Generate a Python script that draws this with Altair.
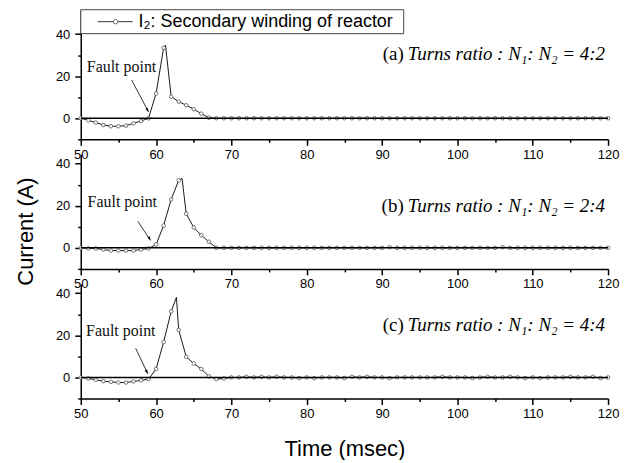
import altair as alt
import pandas as pd

# ---------------- data ----------------
time_ms = list(range(50, 121))

cur_a = [0, -0.95, -2.05, -3.2, -3.8, -3.8, -3.5, -2.4, -1.3, 0.0,
         11.8, 33.5, 10.3, 7.9, 6.2, 4.3, 2.2, 0.3] + [0] * 53
peak_a = (61.25, 34.7)

cur_b = [0, -0.3, -0.3, -0.8, -1.3, -1.3, -1.3, -1.3, -0.8, -0.3,
         1.6, 10.6, 23.0, 32.1, 16.2, 9.7, 6.0, 2.9, 0] + [0] * 52
cur_b[91 - 50] = 0.3
cur_b[106 - 50] = 0.3
peak_b = (63.45, 33.0)

cur_c = [0, -0.5, -1.1, -1.8, -2.1, -2.4, -2.4, -1.9, -1.4, -0.8,
         4.0, 16.8, 31.4, 22.6, 9.8, 6.6, 4.0, 0.5, -0.8, -0.5] + [0] * 51
c_wiggle = {72: 0.3, 74: 0.3, 76: 0.3, 79: -0.3, 81: -0.3, 85: -0.3, 86: 0.3,
            88: 0.3, 91: -0.3, 98: 0.3, 102: -0.3, 104: 0.3, 107: 0.3,
            109: -0.3, 111: -0.3, 115: 0.3, 118: 0.3, 119: -0.3}
for k, v in c_wiggle.items():
    cur_c[k - 50] = v
peak_c = (62.7, 38.1)

tags = ["(a)", "(b)", "(c)"]
ratios = ["Turns ratio : N\u2081: N\u2082 = 4:2",
          "Turns ratio : N\u2081: N\u2082 = 2:4",
          "Turns ratio : N\u2081: N\u2082 = 4:4"]
tag_y = [30.5, 20.0, 25.0]
fault_text_xy = [(50.8, 24.3), (50.9, 21.9), (50.7, 22.1)]
arrow_tail = [(56.75, 18.2), (57.58, 12.6), (57.28, 13.9)]
arrow_tip = [(59.0, 3.0), (59.26, 3.5), (58.9, 1.75)]
y_top = [51.6, 44.5, 44.5]
heights = [130, 115, 115]

legend_label = "I\u2082: Secondary winding of reactor"

SANS = "Liberation Sans"
SERIF = "Liberation Serif"


def build_panel(i, vals, peak):
    df = pd.DataFrame({"t": time_ms, "i": vals})
    line_df = pd.concat([df, pd.DataFrame({"t": [peak[0]], "i": [peak[1]]})]).sort_values("t")

    tick_cond = {"condition": {"test": "datum.value % 10 === 0", "value": 6}, "value": 3}
    ytick_cond = {"condition": {"test": "datum.value % 20 === 0", "value": 6}, "value": 3}

    xkw = dict(values=list(range(50, 121, 5)),
               labelExpr="datum.value % 10 === 0 ? datum.label : ''",
               tickSize=tick_cond, labelPadding=3, labelFontSize=13,
               labelFont=SANS, labelColor="black", labelFlush=False)
    if i == 2:
        xkw.update(title="Time (msec)", titleFont=SANS, titleFontSize=22,
                   titleFontWeight="normal", titleColor="black",
                   titleY=57, titleBaseline="alphabetic")
    else:
        xkw.update(title=None)
    ykw = dict(values=[-10, 0, 10, 20, 30, 40],
               labelExpr="datum.value % 20 === 0 ? datum.label : ''",
               tickSize=ytick_cond, labelPadding=5, labelFontSize=13,
               labelFont=SANS, labelColor="black", labelFlush=False)
    if i == 1:
        ykw.update(title="Current (A)", titleFont=SANS, titleFontSize=22,
                   titleFontWeight="normal", titleColor="black",
                   titleX=-43, titleY=77, titleBaseline="bottom", titleAngle=270)
    else:
        ykw.update(title=None)

    xs = alt.Scale(domain=[50, 120], nice=False, zero=False)
    ys = alt.Scale(domain=[-10, y_top[i]], nice=False, zero=False)
    X = alt.X("t:Q", scale=xs, axis=alt.Axis(**xkw))
    Y = alt.Y("i:Q", scale=ys, axis=alt.Axis(**ykw))

    zero = alt.Chart(pd.DataFrame({"t": [50], "t2": [120], "i": [0]})).mark_rule(
        color="black", strokeWidth=1.5).encode(x=X, x2="t2:Q", y=Y)
    line = alt.Chart(line_df).mark_line(color="#1a1a1a", strokeWidth=1).encode(x=X, y=Y)
    pts = alt.Chart(df).mark_point(shape="circle", fill="white", stroke="#555",
                                   strokeWidth=0.8, size=13, opacity=1,
                                   filled=False).encode(x=X, y=Y)

    ann = pd.DataFrame({"t": [119.6], "i": [tag_y[i]], "txt": [ratios[i]], "tag": [tags[i]]})
    ratio_txt = alt.Chart(ann).mark_text(font=SERIF, fontStyle="italic", fontSize=19,
                                         align="right", baseline="middle",
                                         color="black").encode(x=X, y=Y, text="txt:N")
    tag_txt = alt.Chart(ann).mark_text(font=SERIF, fontSize=19, align="right",
                                       baseline="middle", dx=-202,
                                       color="black").encode(x=X, y=Y, text="tag:N")

    fdf = pd.DataFrame({"t": [fault_text_xy[i][0]], "i": [fault_text_xy[i][1]],
                        "txt": ["Fault point"]})
    fault_txt = alt.Chart(fdf).mark_text(font=SERIF, fontSize=16, align="left",
                                         baseline="middle", color="#111").encode(
        x=X, y=Y, text="txt:N")

    adf = pd.DataFrame({"t": [arrow_tail[i][0]], "i": [arrow_tail[i][1]],
                        "t2": [arrow_tip[i][0]], "i2": [arrow_tip[i][1]]})
    arrow = alt.Chart(adf).mark_rule(color="black", strokeWidth=0.8).encode(
        x=X, y=Y, x2="t2:Q", y2="i2:Q")
    hdf = pd.DataFrame({"t": [arrow_tip[i][0]], "i": [arrow_tip[i][1]]})
    head = alt.Chart(hdf).mark_point(shape="M0,0L-0.45,1.3L0.45,1.3Z", filled=True,
                                     color="black", opacity=1, size=40,
                                     angle=152).encode(x=X, y=Y)

    layers = [line, pts, zero, ratio_txt, tag_txt, fault_txt, arrow, head]

    if i == 0:
        one = pd.DataFrame({"k": [0]})
        box = alt.Chart(one).mark_rect(fill="white", stroke="#444", strokeWidth=1).encode(
            x=alt.value(0), x2=alt.value(324), y=alt.value(0), y2=alt.value(24))
        lrule = alt.Chart(one).mark_rule(color="#333", strokeWidth=1).encode(
            x=alt.value(17), x2=alt.value(52), y=alt.value(12))
        lpt = alt.Chart(one).mark_point(shape="circle", fill="white", stroke="#555",
                                        strokeWidth=0.8, size=20, opacity=1).encode(
            x=alt.value(35), y=alt.value(12))
        ltxt = alt.Chart(pd.DataFrame({"txt": [legend_label]})).mark_text(
            font=SANS, fontSize=18, align="left", baseline="middle",
            color="black").encode(x=alt.value(58), y=alt.value(12), text="txt:N")
        layers += [box, lrule, lpt, ltxt]

    return alt.layer(*layers).properties(width=529, height=heights[i])


panels = [build_panel(0, cur_a, peak_a),
          build_panel(1, cur_b, peak_b),
          build_panel(2, cur_c, peak_c)]

chart = alt.vconcat(*panels, spacing=15, bounds="flush").properties(
    padding={"left": 7, "top": 0, "right": 5, "bottom": 0}
).configure_view(stroke=None).configure_axis(
    grid=False, domainColor="black", domainWidth=1.5,
    tickColor="black", tickWidth=1.5
)

chart.save("out.html", embed_options={"renderer": "svg", "actions": False})
